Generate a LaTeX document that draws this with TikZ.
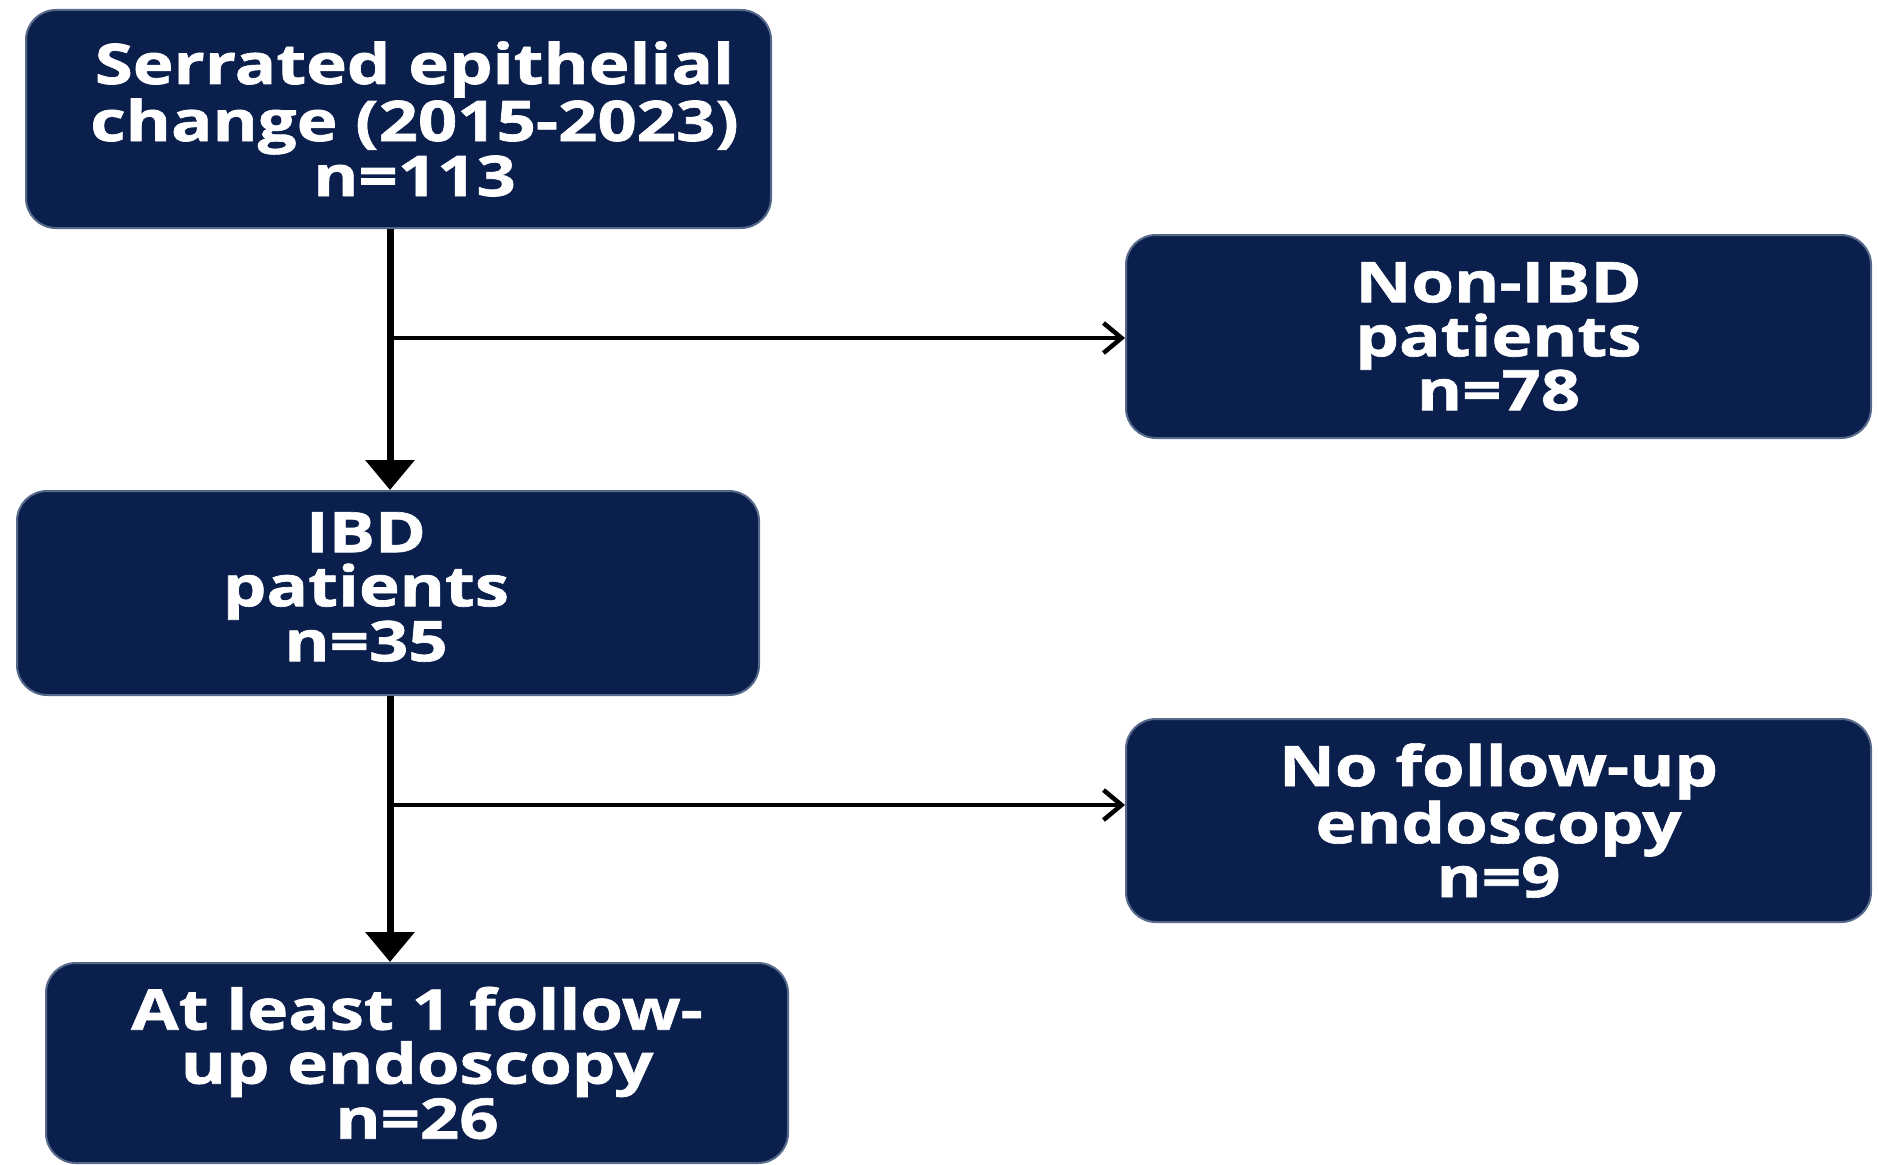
\documentclass[tikz,border=0pt]{standalone}
\usepackage{fontspec}
\setmainfont{Open Sans}[FakeStretch=1.23, BoldFeatures={FakeBold=1.2}]
\usetikzlibrary{arrows.meta}
\definecolor{navy}{HTML}{0A1F4C}
\definecolor{edge}{HTML}{56698A}
\tikzset{
  flowbox/.style={draw=edge, line width=2pt, fill=navy, rounded corners=30pt,
    text=white, align=center, inner sep=0pt,
    font=\fontsize{56pt}{54pt}\selectfont\bfseries},
  boxtext/.style={text=white, align=center, inner sep=0pt,
    font=\fontsize{56pt}{54pt}\selectfont\bfseries},
  mainarrow/.style={line width=7pt, -{Triangle[width=48pt,length=30pt]}},
  sidearrow/.style={line width=4.5pt, -{Straight Barb[width=30pt,length=18pt,line width=4.5pt]}}
}
\begin{document}
\begin{tikzpicture}[x=1pt,y=-1pt]
\useasboundingbox (0,0) rectangle (1878,1164);
\fill[white] (0,0) rectangle (1878,1164);
\node[flowbox, minimum width=745pt, minimum height=218pt] (A) at (398.5,119) {};
\node[boxtext] (At) at ([xshift=16pt]A.center) {Serrated epithelial\\change (2015-2023)\\n=113};
\node[flowbox, minimum width=745pt, minimum height=203pt] (B) at (1498.5,336.5) {Non-IBD\\patients\\n=78};
\node[flowbox, minimum width=742pt, minimum height=204pt] (C) at (388,593) {};
\node[boxtext] (Ct) at ([xshift=-22pt,yshift=6pt]C.center) {IBD\\patients\\n=35};
\node[flowbox, minimum width=745pt, minimum height=203pt] (D) at (1498.5,820.5) {No follow-up\\endoscopy\\n=9};
\node[flowbox, minimum width=742pt, minimum height=200pt] (E) at (417,1063) {At least 1 follow-\\up endoscopy\\n=26};
\coordinate (v) at (390,0);
\coordinate (b1) at (390,338);
\coordinate (b2) at (390,805);
\draw[mainarrow] (A.south -| v) -- (C.north -| v);
\draw[mainarrow] (C.south -| v) -- (E.north -| v);
\draw[sidearrow] (b1) -- (b1 -| B.west);
\draw[sidearrow] (b2) -- (b2 -| D.west);
\end{tikzpicture}
\end{document}
